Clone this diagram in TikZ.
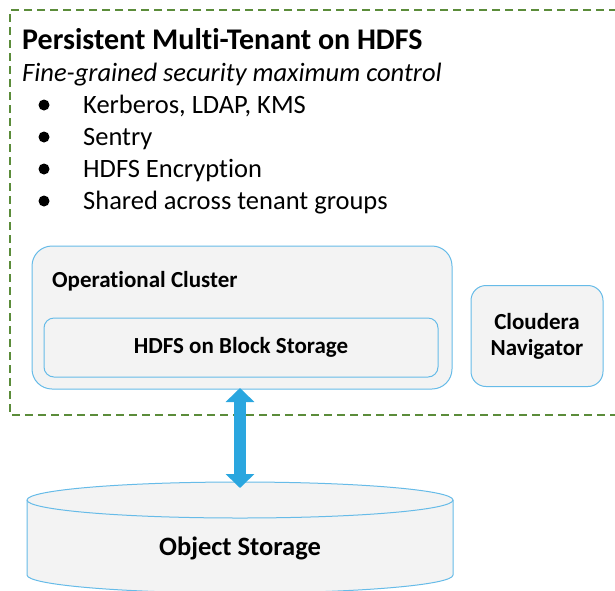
\documentclass[tikz,border=0pt]{standalone}
\usepackage{fontspec}
\setmainfont{Carlito}[Ligatures={NoCommon,NoContextual}, RawFeature={-liga;-clig;-dlig;-calt}]
\usetikzlibrary{arrows.meta}
\definecolor{dgreen}{HTML}{5B8C3A}
\definecolor{lblue}{HTML}{66BBE8}
\definecolor{boxfill}{HTML}{F3F3F3}
\definecolor{arrblue}{HTML}{2AA6DF}
\tikzset{
  txt/.style={anchor=base west, inner sep=0pt, text=black},
  rbox/.style={draw=lblue, fill=boxfill, line width=1pt},
  bul/.style={circle, fill=black, inner sep=0pt, minimum size=11pt},
}
\begin{document}
\begin{tikzpicture}[x=1pt,y=-1pt]
\useasboundingbox (0,0) rectangle (615,590);
% outer dashed region
\draw[dgreen, line width=1.8pt, dash pattern=on 8pt off 5pt] (630,10) -- (10,10) -- (10,415) -- (630,415);
\node[txt, font=\fontsize{30}{34}\selectfont\bfseries] (title) at (22,49) {Persistent Multi-Tenant on HDFS};
\node[txt, font=\fontsize{26.5}{30}\selectfont\itshape] (sub) at (22,81) {Fine-grained security maximum control};
\foreach \i/\t in {1/{Kerberos, LDAP, KMS},2/{Sentry},3/{HDFS Encryption},4/{Shared across tenant groups}}{
  \node[bul] (b\i) at (44,{105+32*(\i-1)}) {};
  \node[txt, font=\fontsize{26.5}{30}\selectfont] (it\i) at (83,{113+32*(\i-1)}) {\t};
}
% operational cluster
\draw[rbox, rounded corners=20pt] (32,246) rectangle (452,389);
\node[txt, font=\fontsize{23}{27}\selectfont\bfseries] (oc) at (52,287) {Operational Cluster};
\node[rbox, rounded corners=10pt, minimum width=394pt, minimum height=59pt, font=\fontsize{23}{27}\selectfont\bfseries] (hdfs) at (241,347.5) {HDFS on Block Storage};
\node[rbox, rounded corners=15pt, minimum width=132pt, minimum height=101pt, align=center, font=\fontsize{23}{26}\selectfont\bfseries] (nav) at (537,336) {Cloudera\\Navigator};
\coordinate (ocbot) at (240,388);
% cylinder
\path[rbox] (27,500) -- (27,575) arc[start angle=180, end angle=0, x radius=213, y radius=18] -- (453,500) arc[start angle=0, end angle=-180, x radius=213, y radius=18] -- cycle;
\draw[lblue, line width=1pt] (27,500) arc[start angle=180, end angle=0, x radius=213, y radius=18];
\coordinate (cyltop) at (240,488);
\node[font=\fontsize{26.5}{30}\selectfont\bfseries, inner sep=0pt] (obj) at (240,548) {Object Storage};
% arrow
\draw[arrblue, line width=12pt, {Triangle[width=28pt,length=14pt]}-{Triangle[width=28pt,length=14pt]}] (ocbot) -- (cyltop);
\end{tikzpicture}
\end{document}
